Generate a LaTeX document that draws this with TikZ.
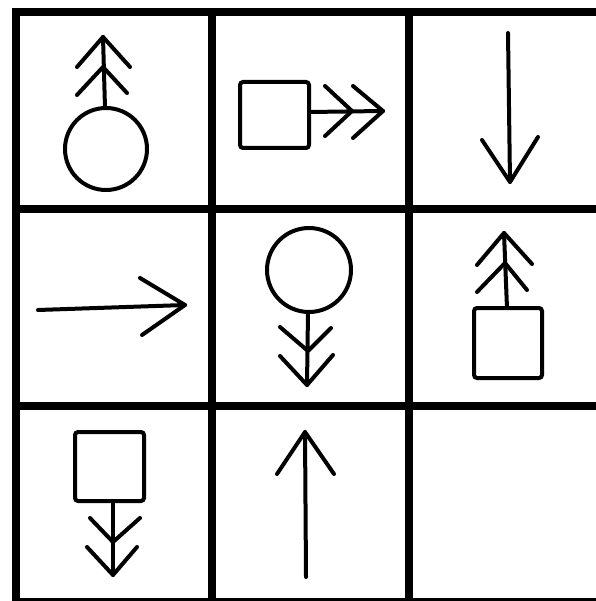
\documentclass[tikz,border=0pt]{standalone}
\begin{document}
\begin{tikzpicture}[x=1pt,y=-1pt,
  grid/.style={line width=7.2pt,line cap=rect},
  sym/.style={line width=4pt,line cap=round,line join=round},
  box/.style={line width=4pt,rounded corners=3pt}]
\fill[white] (0,0) rectangle (595,601);
\useasboundingbox (0,0) rectangle (595,601);
% grid
\draw[grid] (16,12) -- (600,12);
\draw[grid] (16,209) -- (600,209);
\draw[grid] (16,406) -- (600,406);
\draw[grid] (16,602) -- (600,602);
\draw[grid] (16,12) -- (16,602);
\draw[grid] (212,12) -- (212,602);
\draw[grid] (409,12) -- (409,602);
% cell 1: circle with double arrow up
\draw[sym] (106,149) circle (41);
\draw[sym] (105,108) -- (103,37);
\draw[sym] (77,67) -- (103,37) -- (130,67);
\draw[sym] (77,95) -- (103,67) -- (127,93);
% cell 2: square with double arrow right
\draw[box] (240,82) rectangle (309,148);
\draw[sym] (309,112) -- (383,111);
\draw[sym] (325,86) -- (352,111) -- (325,136);
\draw[sym] (353,86) -- (383,111) -- (353,138);
% cell 3: arrow down
\draw[sym] (508,33) -- (510,182);
\draw[sym] (482,140) -- (510,182) -- (538,137);
% cell 4: arrow right
\draw[sym] (38,310) -- (185,305);
\draw[sym] (140,278) -- (185,305) -- (142,335);
% cell 5: circle with double arrow down
\draw[sym] (309,270) circle (42);
\draw[sym] (308,312) -- (307,385);
\draw[sym] (280,327) -- (308,351) -- (331,328);
\draw[sym] (280,356) -- (307,385) -- (333,355);
% cell 6: square with double arrow up
\draw[box] (474,308) rectangle (542,378);
\draw[sym] (507,308) -- (504,233);
\draw[sym] (477,265) -- (504,233) -- (532,264);
\draw[sym] (477,292) -- (505,263) -- (527,290);
% cell 7: square with double arrow down
\draw[box] (75,432) rectangle (144,501);
\draw[sym] (113,501) -- (113,575);
\draw[sym] (90,518) -- (113,542) -- (140,518);
\draw[sym] (87,547) -- (113,575) -- (137,547);
% cell 8: arrow up
\draw[sym] (306,577) -- (305,432);
\draw[sym] (277,474) -- (305,432) -- (334,474);
\end{tikzpicture}
\end{document}
